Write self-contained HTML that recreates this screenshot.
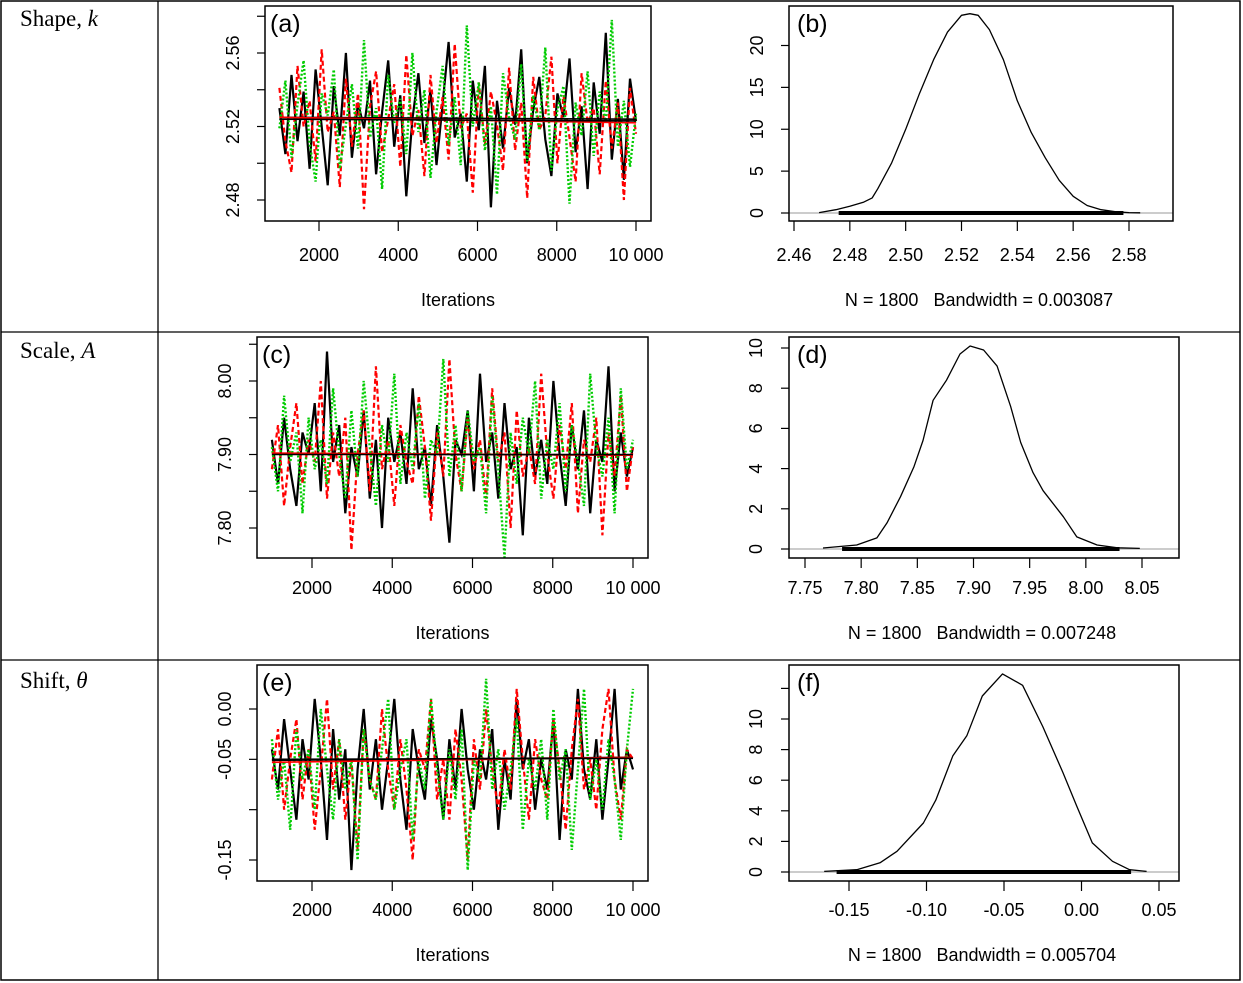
<!DOCTYPE html>
<html><head><meta charset="utf-8"><style>
html,body{margin:0;padding:0;background:#fff}
svg{display:block}
text{font-family:"Liberation Sans",sans-serif;fill:#000}
.lbl{font-family:"Liberation Serif",serif;font-size:23px}
</style></head><body>
<svg id="fig" width="1243" height="983" viewBox="0 0 1243 983" xmlns="http://www.w3.org/2000/svg">
<rect x="1" y="1" width="1239" height="979" fill="none" stroke="#000" stroke-width="1.5"/>
<line x1="158" y1="1" x2="158" y2="980" stroke="#000" stroke-width="1.3"/>
<line x1="1" y1="332" x2="1240" y2="332" stroke="#000" stroke-width="1.3"/>
<line x1="1" y1="660" x2="1240" y2="660" stroke="#000" stroke-width="1.3"/>
<text class="lbl" x="20" y="26">Shape, <tspan font-style="italic">k</tspan></text>
<text class="lbl" x="20" y="358">Scale, <tspan font-style="italic">A</tspan></text>
<text class="lbl" x="20" y="688">Shift, <tspan font-style="italic">θ</tspan></text>
</svg>
<script>
// ---- data ----
const iterRange = [1000, 10000];
const xTickIters = [2000, 4000, 6000, 8000, 10000];
const xTickIterLabels = ["2000", "4000", "6000", "8000", "10 000"];

const aBlack = [2.530,2.505,2.548,2.512,2.539,2.497,2.551,2.520,2.488,2.542,2.515,2.560,2.503,2.533,2.519,2.545,2.494,2.528,2.556,2.509,2.537,2.482,2.524,2.549,2.511,2.540,2.499,2.532,2.566,2.514,2.527,2.490,2.545,2.518,2.553,2.476,2.534,2.508,2.541,2.521,2.562,2.500,2.529,2.547,2.513,2.493,2.538,2.525,2.557,2.506,2.531,2.486,2.544,2.516,2.571,2.502,2.535,2.491,2.546,2.523];
const aRed = [2.541,2.512,2.495,2.553,2.520,2.534,2.501,2.562,2.517,2.528,2.487,2.546,2.509,2.538,2.475,2.531,2.550,2.506,2.524,2.543,2.498,2.559,2.515,2.529,2.493,2.548,2.511,2.536,2.502,2.565,2.519,2.527,2.484,2.544,2.510,2.539,2.521,2.496,2.552,2.507,2.533,2.481,2.547,2.518,2.526,2.558,2.500,2.537,2.514,2.490,2.549,2.522,2.530,2.494,2.545,2.508,2.533,2.480,2.541,2.516];
const aGreen = [2.519,2.545,2.503,2.532,2.556,2.511,2.490,2.538,2.526,2.551,2.497,2.521,2.543,2.508,2.567,2.514,2.530,2.486,2.548,2.522,2.535,2.505,2.560,2.517,2.540,2.492,2.528,2.553,2.510,2.536,2.499,2.575,2.520,2.544,2.507,2.531,2.483,2.549,2.525,2.513,2.554,2.501,2.537,2.518,2.563,2.496,2.529,2.542,2.478,2.533,2.515,2.550,2.504,2.539,2.522,2.578,2.509,2.534,2.498,2.527];
const aMeans = [[2.525,2.524],[2.525,2.522],[2.524,2.523]];

const cBlack = [7.92,7.86,7.95,7.88,7.83,7.93,7.90,7.97,7.85,8.04,7.89,7.94,7.82,7.91,7.87,7.96,7.84,7.92,7.80,7.95,7.89,7.93,7.86,7.99,7.88,7.91,7.83,7.94,7.87,7.78,7.92,7.90,7.96,7.85,8.01,7.89,7.93,7.84,7.97,7.88,7.91,7.79,7.95,7.87,7.92,7.86,8.00,7.90,7.83,7.94,7.88,7.96,7.82,7.92,7.89,8.02,7.85,7.93,7.87,7.91];
const cRed = [7.88,7.94,7.83,7.91,7.97,7.86,7.92,7.89,8.00,7.84,7.93,7.87,7.95,7.77,7.90,7.96,7.85,8.02,7.88,7.92,7.83,7.94,7.89,7.86,7.98,7.91,7.81,7.93,7.87,8.03,7.90,7.85,7.95,7.88,7.92,7.84,7.99,7.89,7.93,7.80,7.96,7.87,7.91,7.86,8.01,7.90,7.84,7.94,7.88,7.97,7.82,7.92,7.89,7.95,7.79,7.93,7.87,7.98,7.85,7.91];
const cGreen = [7.91,7.85,7.98,7.89,7.93,7.82,7.95,7.88,7.92,7.86,7.99,7.90,7.84,7.96,7.87,8.00,7.91,7.83,7.94,7.89,8.01,7.86,7.93,7.88,7.97,7.84,7.92,7.90,8.03,7.87,7.94,7.85,7.96,7.89,7.91,7.82,7.98,7.88,7.76,7.93,7.86,7.95,7.90,8.00,7.84,7.92,7.88,7.97,7.85,7.94,7.89,7.83,8.01,7.91,7.87,7.95,7.82,7.99,7.88,7.92];
const cMeans = [[7.901,7.899],[7.902,7.899],[7.900,7.900]];

const eBlack = [-0.04,-0.08,-0.01,-0.06,-0.11,-0.03,-0.07,0.01,-0.05,-0.13,-0.02,-0.09,-0.04,-0.16,-0.06,0.00,-0.08,-0.03,-0.10,-0.05,0.01,-0.07,-0.12,-0.02,-0.06,-0.09,-0.01,-0.05,-0.11,-0.03,-0.08,0.00,-0.06,-0.10,-0.04,-0.07,-0.02,-0.12,-0.05,-0.09,0.01,-0.06,-0.03,-0.10,-0.05,-0.08,-0.01,-0.13,-0.04,-0.07,0.02,-0.06,-0.09,-0.03,-0.11,-0.05,0.02,-0.08,-0.04,-0.06];
const eRed = [-0.07,-0.02,-0.10,-0.05,-0.01,-0.09,-0.04,-0.12,-0.06,0.01,-0.08,-0.03,-0.11,-0.05,-0.14,-0.02,-0.07,-0.09,0.00,-0.06,-0.10,-0.03,-0.08,-0.15,-0.04,-0.06,0.01,-0.09,-0.05,-0.11,-0.02,-0.07,-0.15,-0.03,-0.08,0.00,-0.06,-0.10,-0.04,-0.08,0.02,-0.05,-0.11,-0.03,-0.07,-0.09,-0.01,-0.06,-0.12,-0.04,0.01,-0.08,-0.05,-0.10,-0.02,0.02,-0.07,-0.11,-0.04,-0.05];
const eGreen = [-0.03,-0.09,-0.05,-0.12,-0.02,-0.07,-0.04,-0.10,0.00,-0.06,-0.11,-0.03,-0.08,-0.05,-0.15,-0.02,-0.07,-0.09,-0.04,0.01,-0.10,-0.06,-0.03,-0.13,-0.05,-0.08,0.01,-0.06,-0.11,-0.04,-0.09,-0.02,-0.16,-0.05,-0.07,0.03,-0.08,-0.04,-0.10,-0.06,-0.01,-0.12,-0.05,-0.08,-0.03,-0.11,0.00,-0.07,-0.04,-0.14,-0.06,0.02,-0.09,-0.05,-0.10,-0.03,-0.07,-0.13,-0.04,0.02];
const eMeans = [[-0.051,-0.048],[-0.053,-0.048],[-0.050,-0.049]];

const bX = [2.469,2.475,2.48,2.485,2.488,2.49,2.495,2.50,2.505,2.51,2.515,2.52,2.523,2.526,2.53,2.535,2.54,2.545,2.55,2.555,2.56,2.565,2.57,2.575,2.58,2.584];
const bY = [0.05,0.4,0.8,1.3,1.8,2.9,6.0,10.0,14.3,18.3,21.6,23.6,23.8,23.6,21.9,18.3,13.4,9.6,6.6,3.9,2.0,0.9,0.4,0.15,0.05,0.02];
const bRug = [2.476,2.578];
const bYTicks = [0,5,10,15,20];
const bXTicks = [2.46,2.48,2.50,2.52,2.54,2.56,2.58];

const dX = [7.766,7.796,7.814,7.823,7.835,7.847,7.855,7.864,7.876,7.888,7.897,7.909,7.921,7.933,7.942,7.953,7.962,7.980,7.992,8.010,8.028,8.048];
const dY = [0.05,0.2,0.55,1.3,2.6,4.1,5.4,7.4,8.4,9.7,10.1,9.9,9.1,7.1,5.3,3.8,2.9,1.6,0.6,0.2,0.06,0.03];
const dRug = [7.783,8.030];
const dYTicks = [0,2,4,6,8,10];
const dXTicks = [7.75,7.80,7.85,7.90,7.95,8.00,8.05];

const fX = [-0.166,-0.145,-0.130,-0.119,-0.102,-0.094,-0.083,-0.074,-0.064,-0.051,-0.038,-0.025,-0.012,-0.003,0.007,0.020,0.031,0.042];
const fY = [0.04,0.15,0.6,1.35,3.2,4.7,7.6,8.9,11.5,12.95,12.2,9.5,6.5,4.3,1.9,0.7,0.15,0.04];
const fRug = [-0.158,0.032];
const fYTicks = [0,2,4,6,8,10,12];
const fXTicks = [-0.15,-0.10,-0.05,0.00,0.05];

// ---- drawing ----
const svg = document.getElementById('fig');
const NS = 'http://www.w3.org/2000/svg';
function mk(tag, attrs, parent) {
  const el = document.createElementNS(NS, tag);
  for (const k in attrs) el.setAttribute(k, attrs[k]);
  (parent || svg).appendChild(el);
  return el;
}
function lin(d0, d1, r0, r1) { return v => r0 + (v - d0) * (r1 - r0) / (d1 - d0); }

function frame(g, box) {
  const r = mk('rect', {x: box[0], y: box[1], width: box[2]-box[0], height: box[3]-box[1], fill: 'none', stroke: '#000', 'stroke-width': 1.5}, g);
  
  
}
function yAxis(g, box, ys, ticks, labels, labelX) {
  ticks.forEach((t, i) => {
    const y = ys(t);
    const ln = mk('line', {x1: box[0]-8, y1: y, x2: box[0], y2: y, stroke: '#000', 'stroke-width': 1.2}, g);
    
    
    if (labels[i]) {
      const tx = mk('text', {x: labelX, y: y, 'font-size': 18, 'text-anchor': 'middle', 'dominant-baseline': 'central', transform: `rotate(-90 ${labelX} ${y})`}, g);
      tx.textContent = labels[i];
      
      
    }
  });
}
function xAxis(g, box, xs, ticks, labels, labelY) {
  ticks.forEach((t, i) => {
    const x = xs(t);
    const ln = mk('line', {x1: x, y1: box[3], x2: x, y2: box[3]+10, stroke: '#000', 'stroke-width': 1.2}, g);
    
    
    const tx = mk('text', {x: x, y: labelY, 'font-size': 18, 'text-anchor': 'middle'}, g);
    tx.textContent = labels[i];
    
    
  });
}
function txt(g, x, y, s, size, name) {
  const t = mk('text', {x: x, y: y, 'font-size': size, 'text-anchor': 'middle'}, g);
  t.textContent = s;
  
  
}
function label(g, x, y, s) {
  const t = mk('text', {x: x, y: y, 'font-size': 25}, g);
  t.textContent = s;
  
  
}

function tracePanel(cfg) {
  const g = mk('g', {});
  
  
  const xs = lin(cfg.xRef[0], cfg.xRef[1], cfg.xPx[0], cfg.xPx[1]);
  const ys = lin(cfg.yRef[0], cfg.yRef[1], cfg.yPx[0], cfg.yPx[1]);
  const styles = [['#000', 'none', 'trace-chain-1', 2.2], ['#ff0000', '5 3', 'trace-chain-2', 2.2], ['#00cc00', '2 2', 'trace-chain-3', 2.4]];
  cfg.chains.forEach((ch, ci) => {
    const n = ch.length;
    const pts = ch.map((v, i) => xs(iterRange[0] + (iterRange[1]-iterRange[0]) * i / (n-1)).toFixed(1) + ',' + ys(v).toFixed(1)).join(' ');
    const pl = mk('polyline', {points: pts, fill: 'none', stroke: styles[ci][0], 'stroke-width': styles[ci][3], 'stroke-dasharray': styles[ci][1]}, g);
    
    
  });
  cfg.means.forEach((m, ci) => {
    const ln = mk('line', {x1: xs(iterRange[0]), y1: ys(m[0]), x2: xs(iterRange[1]), y2: ys(m[1]), stroke: ci === 1 ? '#ff0000' : '#000', 'stroke-width': 1.6}, g);
    
    
  });
  frame(g, cfg.box);
  yAxis(g, cfg.box, ys, cfg.yTicks, cfg.yLabels, cfg.yLabelX);
  xAxis(g, cfg.box, xs, xTickIters, xTickIterLabels, cfg.xLabelY);
  txt(g, (cfg.box[0]+cfg.box[2])/2, cfg.xLabelY + 45, 'Iterations', 18, 'x-axis-title');
  label(g, cfg.box[0]+5, cfg.box[1]+26, cfg.label);
}

function densityPanel(cfg) {
  const g = mk('g', {});
  
  
  const xs = lin(cfg.xRef[0], cfg.xRef[1], cfg.xPx[0], cfg.xPx[1]);
  const ys = lin(0, cfg.yRef, cfg.yPx[0], cfg.yPx[1]);
  const zl = mk('line', {x1: cfg.box[0], y1: ys(0), x2: cfg.box[2], y2: ys(0), stroke: '#bbb', 'stroke-width': 1.5}, g);
  
  
  const rug = mk('rect', {x: xs(cfg.rug[0]), y: ys(0)-2, width: xs(cfg.rug[1]) - xs(cfg.rug[0]), height: 4, fill: '#000'}, g);
  
  
  const pts = cfg.xv.map((v, i) => xs(v).toFixed(1) + ',' + ys(cfg.yv[i]).toFixed(1)).join(' ');
  const pl = mk('polyline', {points: pts, fill: 'none', stroke: '#000', 'stroke-width': 1.3, 'stroke-linejoin': 'round'}, g);
  
  
  frame(g, cfg.box);
  yAxis(g, cfg.box, ys, cfg.yTicks, cfg.yLabels, cfg.yLabelX);
  xAxis(g, cfg.box, xs, cfg.xTicks, cfg.xLabels, cfg.xLabelY);
  txt(g, (cfg.box[0]+cfg.box[2])/2 - 2, cfg.xLabelY + 45, cfg.sub, 18, 'bandwidth-caption');
  label(g, cfg.box[0]+8, cfg.box[1]+26, cfg.label);
}

tracePanel({name: 'trace-plot-shape', box: [265, 6, 651, 221], chains: [aBlack, aRed, aGreen], means: aMeans,
  xRef: [2000, 10000], xPx: [319, 636], yRef: [2.56, 2.48], yPx: [53, 200],
  yTicks: [2.48, 2.50, 2.52, 2.54, 2.56, 2.58], yLabels: ['2.48', '', '2.52', '', '2.56', ''], yLabelX: 233, xLabelY: 261, label: '(a)'});
tracePanel({name: 'trace-plot-scale', box: [257, 337, 648, 558], chains: [cBlack, cRed, cGreen], means: cMeans,
  xRef: [2000, 10000], xPx: [312, 633], yRef: [8.00, 7.80], yPx: [381, 528],
  yTicks: [7.80, 7.85, 7.90, 7.95, 8.00, 8.05], yLabels: ['7.80', '', '7.90', '', '8.00', ''], yLabelX: 225, xLabelY: 594, label: '(c)'});
tracePanel({name: 'trace-plot-shift', box: [257, 665, 648, 881], chains: [eBlack, eRed, eGreen], means: eMeans,
  xRef: [2000, 10000], xPx: [312, 633], yRef: [0.00, -0.15], yPx: [709, 860],
  yTicks: [-0.15, -0.10, -0.05, 0.00], yLabels: ['-0.15', '', '-0.05', '0.00'], yLabelX: 225, xLabelY: 916, label: '(e)'});

densityPanel({name: 'density-plot-shape', box: [789, 6, 1173, 221], xv: bX, yv: bY, rug: bRug,
  xRef: [2.46, 2.58], xPx: [794, 1129], yRef: 20, yPx: [213, 45.5],
  yTicks: bYTicks, yLabels: ['0', '5', '10', '15', '20'], yLabelX: 757,
  xTicks: bXTicks, xLabels: ['2.46', '2.48', '2.50', '2.52', '2.54', '2.56', '2.58'], xLabelY: 261,
  sub: 'N = 1800\u00a0\u00a0\u00a0Bandwidth = 0.003087', label: '(b)'});
densityPanel({name: 'density-plot-scale', box: [789, 337, 1179, 558], xv: dX, yv: dY, rug: dRug,
  xRef: [7.75, 8.05], xPx: [805, 1142], yRef: 10, yPx: [549, 348],
  yTicks: dYTicks, yLabels: ['0', '2', '4', '6', '8', '10'], yLabelX: 756,
  xTicks: dXTicks, xLabels: ['7.75', '7.80', '7.85', '7.90', '7.95', '8.00', '8.05'], xLabelY: 594,
  sub: 'N = 1800\u00a0\u00a0\u00a0Bandwidth = 0.007248', label: '(d)'});
densityPanel({name: 'density-plot-shift', box: [789, 665, 1179, 881], xv: fX, yv: fY, rug: fRug,
  xRef: [-0.15, 0.05], xPx: [849, 1159], yRef: 10, yPx: [872, 719],
  yTicks: fYTicks, yLabels: ['0', '2', '4', '6', '8', '10', ''], yLabelX: 756,
  xTicks: fXTicks, xLabels: ['-0.15', '-0.10', '-0.05', '0.00', '0.05'], xLabelY: 916,
  sub: 'N = 1800\u00a0\u00a0\u00a0Bandwidth = 0.005704', label: '(f)'});
</script>
</body></html>
